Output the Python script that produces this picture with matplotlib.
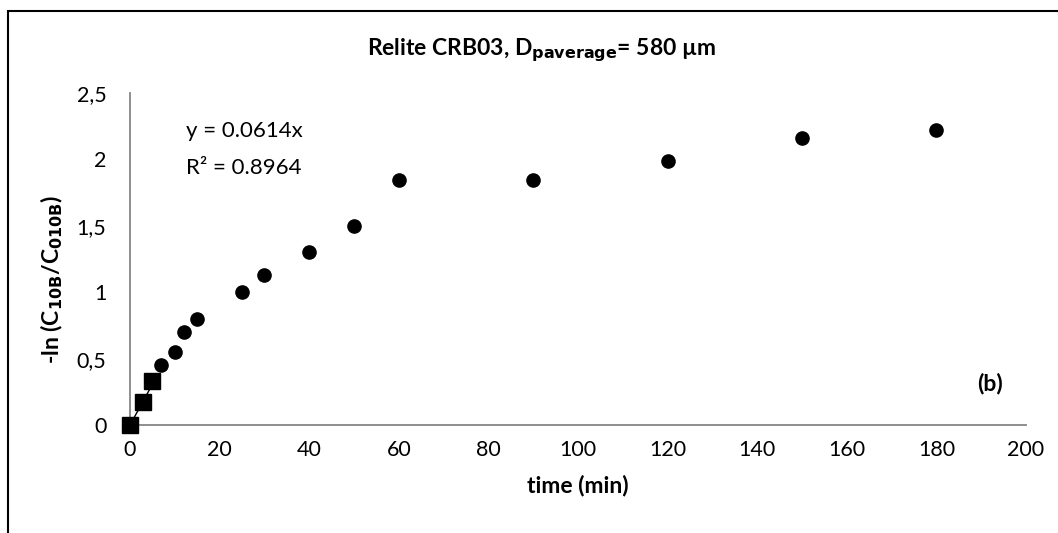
import numpy as np
import matplotlib
matplotlib.use("Agg")
import matplotlib.pyplot as plt
from matplotlib.patches import Rectangle

plt.rcParams['font.family'] = ['Lato', 'DejaVu Sans']

# measured points (circles)
t_all = [7, 10, 12, 15, 25, 30, 40, 50, 60, 90, 120, 150, 180]
y_all = [0.45, 0.55, 0.70, 0.80, 1.00, 1.13, 1.30, 1.50, 1.845, 1.845, 1.99, 2.16, 2.22]

# initial points used for the linear fit (squares)
t_fit = [0, 3, 5]
y_fit = [0.0, 0.17, 0.33]
slope = 0.0614

xticks = [0, 20, 40, 60, 80, 100, 120, 140, 160, 180, 200]
yticks = [0, 0.5, 1, 1.5, 2, 2.5]
ytick_labels = ['0', '0,5', '1', '1,5', '2', '2,5']

fig = plt.figure(figsize=(10.58, 5.33), dpi=100)
ax = fig.add_axes([0.1229, 0.2026, 0.8469, 0.6229])

# outer chart frame (only top/left edges visible in the crop)
fig.patches.append(Rectangle((8 / 1058, -0.05), 1.2, 1 - 11 / 533 + 0.05,
                             transform=fig.transFigure, fill=False,
                             edgecolor='black', linewidth=1.5))

ax.plot(t_all, y_all, 'o', color='black', markersize=9.5, clip_on=False, zorder=3)
ax.plot(t_fit, y_fit, 's', color='black', markersize=12, clip_on=False, zorder=3)
xl = np.array([0, 5])
ax.plot(xl, slope * xl, color='black', linewidth=1, zorder=2)

ax.set_xlim(0, 200)
ax.set_ylim(0, 2.5)
ax.set_xticks(xticks)
ax.set_yticks(yticks)
ax.set_yticklabels(ytick_labels)
ax.tick_params(length=0, labelsize=15.5)
ax.tick_params(axis='x', pad=11)
ax.tick_params(axis='y', pad=17)

for s in ['top', 'right']:
    ax.spines[s].set_visible(False)
for s in ['left', 'bottom']:
    ax.spines[s].set_color('#868686')
    ax.spines[s].set_linewidth(1.3)

ax.set_xlabel('time (min)', fontsize=16.5, fontweight='bold', labelpad=10)
ax.set_ylabel(r'-ln (C$_{\mathbf{10B}}$/C$_{\mathbf{010B}}$)', fontsize=16.5,
              fontweight='bold')
ax.yaxis.set_label_coords(-0.073, 0.44)
fig.text(541 / 1058, 1 - 50 / 533, r'Relite CRB03, D$_{\mathbf{paverage}}$= 580 µm',
         ha='center', va='center', fontsize=16.5, fontweight='bold')

fig.text(186 / 1058, 1 - 131 / 533, 'y = 0.0614x', fontsize=16, va='center')
fig.text(186 / 1058, 1 - 168 / 533, 'R² = 0.8964', fontsize=16, va='center')
fig.text(990 / 1058, 1 - 383 / 533, '(b)', fontsize=16.5, fontweight='bold',
         ha='center', va='center')

fig.savefig('out.png', dpi=100)
